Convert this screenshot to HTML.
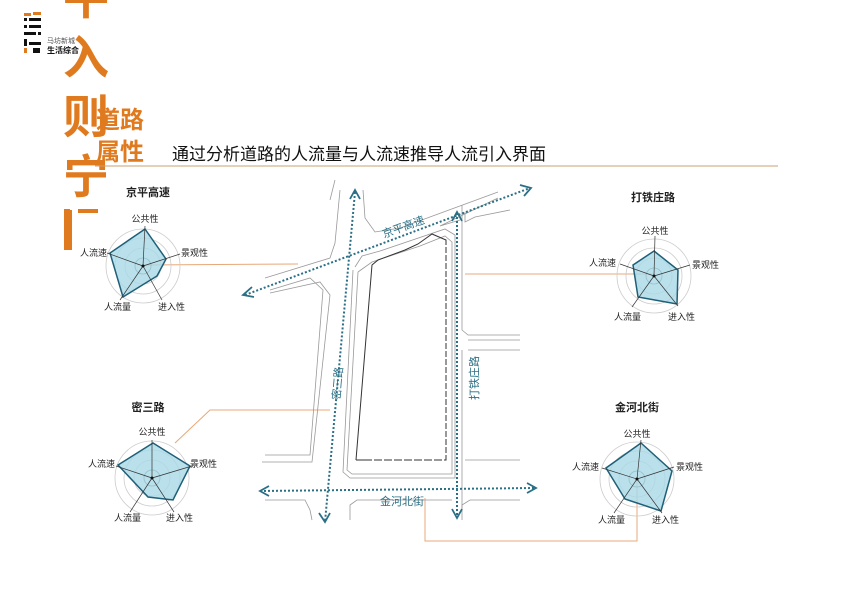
<!DOCTYPE html>
<html><head><meta charset="utf-8"><style>
body{margin:0;background:#fff}
svg{display:block}
text{font-family:"Liberation Sans","Noto Sans CJK SC",sans-serif}
</style></head><body>
<svg width="849" height="600" viewBox="0 0 849 600" xmlns="http://www.w3.org/2000/svg">
<rect width="849" height="600" fill="#fff"/>
<g fill="#111">
<rect x="24" y="13" width="7" height="3" fill="#e07a1f"/><rect x="33" y="12" width="8" height="3" fill="#e07a1f"/>
<rect x="24" y="18" width="3" height="3"/><rect x="29" y="18" width="12" height="3"/>
<rect x="24" y="25" width="3" height="3"/><rect x="29" y="25" width="12" height="3"/>
<rect x="24" y="32" width="12" height="3"/><rect x="38" y="32" width="3" height="3"/>
<rect x="24" y="39" width="3" height="7"/><rect x="29" y="42" width="12" height="3"/>
<rect x="24" y="48" width="3" height="5" fill="#e07a1f"/><rect x="33" y="48" width="7" height="5"/>
</g>
<text x="47" y="43" font-size="7" fill="#555">马坊新城</text>
<text x="47" y="53" font-size="8" font-weight="bold" fill="#111">生活综合</text>
<g fill="#e07a1f" font-weight="bold">
<text x="63" y="14" font-size="46">平</text>
<text x="63" y="74" font-size="46">入</text>
<text x="63" y="133" font-size="46">则</text>
<text x="63" y="193" font-size="46">宁</text>
<rect x="64" y="210" width="8" height="40"/><rect x="64" y="209" width="6" height="4"/><rect x="78" y="209" width="20" height="4"/>
<text x="96" y="128" font-size="24">道路</text>
<text x="96" y="160" font-size="24">属性</text>
</g>
<text x="172" y="160" font-size="17" fill="#111">通过分析道路的人流量与人流速推导人流引入界面</text>
<line x1="95" y1="166" x2="778" y2="166" stroke="#c8a070" stroke-width="1"/>
<g stroke="#e8a878" fill="none" stroke-width="1">
<line x1="144" y1="265" x2="298" y2="264"/>
<line x1="465" y1="274" x2="654" y2="274"/>
<polyline points="175,443 210,410 330,410"/>
<polyline points="637,479 637,541 425,541 425,498"/>
</g>
<g stroke="#999" fill="none" stroke-width="0.8">
<polyline points="265,278 330,258 335,243 340,190"/>
<polyline points="363,190 365,218 375,232 400,228 498,192"/>
<polyline points="270,290 310,278 323,290 310,455 265,455"/>
<polyline points="270,293 320,282 330,295 312,462 262,462"/>
<polyline points="355,267 362,256 380,251 445,229 455,235 455,478 350,478 343,472 353,270"/>
<polyline points="358,272 372,262 420,246 445,236 452,242 452,474 352,474 347,470 358,272"/>
<polyline points="465,212 465,222 475,217 510,210"/>
<polyline points="462,205 462,330 468,335 520,335"/>
<polyline points="462,350 462,508"/>
<polyline points="468,350 520,350"/>
<polyline points="468,340 520,340"/>
<line x1="465" y1="460" x2="520" y2="460"/>
<polyline points="460,220 440,226 498,198"/>
<polyline points="265,500 305,500 310,510 312,520"/>
<polyline points="350,520 350,505 357,500 452,500"/>
<polyline points="462,520 462,505 470,500 520,500"/>
<polyline points="335,180 330,200"/>
</g>
<polyline points="356,460 372,265 378,260 405,250 418,244 432,234 446,240 446,460 356,460" fill="none" stroke="#333" stroke-width="1"/>
<line x1="446" y1="245" x2="446" y2="460" stroke="#fff" stroke-width="1" stroke-dasharray="2,6"/>
<line x1="372" y1="460" x2="446" y2="460" stroke="#fff" stroke-width="1" stroke-dasharray="2,8"/>
<g stroke="#2a6f86" stroke-width="2" stroke-dasharray="2,2" fill="none">
<line x1="245" y1="295" x2="530" y2="188"/>
<line x1="355" y1="192" x2="325" y2="522"/>
<line x1="457" y1="213" x2="457" y2="516"/>
<line x1="260" y1="491" x2="535" y2="488"/>
</g>
<g stroke="#2a6f86" stroke-width="1.8" fill="none">
<polyline points="252,287 243,295 254,297"/><polyline points="520,185 531,188 524,196"/>
<polyline points="350,199 355,190 360,199"/><polyline points="319,513 325,522 330,513"/>
<polyline points="452,221 457,212 462,221"/><polyline points="452,509 457,518 462,509"/>
<polyline points="269,486 260,491 269,496"/><polyline points="527,483 536,488 527,493"/>
</g>
<g fill="#2a6f86" font-size="11">
<text x="384" y="238" transform="rotate(-20 384 238)">京平高速</text>
<text x="340" y="400" transform="rotate(-85 340 400)">密三路</text>
<text x="478" y="400" transform="rotate(-90 478 400)">打铁庄路</text>
<text x="380" y="505">金河北街</text>
</g>
<defs>
<g id="rings" fill="none" stroke="#ccc" stroke-width="0.8">
<circle r="8" stroke="#555"/><circle r="18"/><circle r="28"/><circle r="37"/>
</g>
</defs>
<g font-size="9" fill="#222">
<text x="148" y="196" font-size="11" font-weight="bold" text-anchor="middle">京平高速</text>
<use href="#rings" x="143" y="266"/>
<polygon points="145,229 166,259 157,276 123,297 110,253" fill="#a8d8e6" fill-opacity="0.8" stroke="#1f5f78" stroke-width="1.5"/>
<g stroke="#333" stroke-width="0.7"><line x1="143" y1="266" x2="145" y2="226"/><line x1="143" y1="266" x2="180" y2="254"/><line x1="143" y1="266" x2="162" y2="300"/><line x1="143" y1="266" x2="120" y2="300"/><line x1="143" y1="266" x2="107" y2="253"/></g>
<circle cx="143" cy="266" r="1.5" fill="#111"/>
<text x="145" y="222" text-anchor="middle">公共性</text><text x="181" y="256">景观性</text><text x="158" y="310">进入性</text><text x="104" y="310">人流量</text><text x="80" y="256">人流速</text>
<text x="653" y="201" font-size="11" font-weight="bold" text-anchor="middle">打铁庄路</text>
<use href="#rings" x="654" y="276"/>
<polygon points="654,251 678,270 677,304 638,297 633,265" fill="#a8d8e6" fill-opacity="0.8" stroke="#1f5f78" stroke-width="1.5"/>
<g stroke="#333" stroke-width="0.7"><line x1="654" y1="276" x2="655" y2="236"/><line x1="654" y1="276" x2="690" y2="265"/><line x1="654" y1="276" x2="678" y2="306"/><line x1="654" y1="276" x2="632" y2="307"/><line x1="654" y1="276" x2="620" y2="264"/></g>
<circle cx="654" cy="276" r="1.5" fill="#111"/>
<text x="655" y="234" text-anchor="middle">公共性</text><text x="692" y="268">景观性</text><text x="668" y="320">进入性</text><text x="614" y="320">人流量</text><text x="589" y="266">人流速</text>
<text x="148" y="411" font-size="11" font-weight="bold" text-anchor="middle">密三路</text>
<use href="#rings" x="152" y="478"/>
<polygon points="153,443 190,466 173,500 148,497 118,465" fill="#a8d8e6" fill-opacity="0.8" stroke="#1f5f78" stroke-width="1.5"/>
<g stroke="#333" stroke-width="0.7"><line x1="152" y1="478" x2="152" y2="440"/><line x1="152" y1="478" x2="192" y2="466"/><line x1="152" y1="478" x2="174" y2="512"/><line x1="152" y1="478" x2="130" y2="512"/><line x1="152" y1="478" x2="116" y2="466"/></g>
<circle cx="152" cy="478" r="1.5" fill="#111"/>
<text x="152" y="435" text-anchor="middle">公共性</text><text x="190" y="467">景观性</text><text x="166" y="521">进入性</text><text x="114" y="521">人流量</text><text x="88" y="467">人流速</text>
<text x="637" y="411" font-size="11" font-weight="bold" text-anchor="middle">金河北街</text>
<use href="#rings" x="637" y="479"/>
<polygon points="641,443 672,471 661,511 625,499 606,468" fill="#a8d8e6" fill-opacity="0.8" stroke="#1f5f78" stroke-width="1.5"/>
<g stroke="#333" stroke-width="0.7"><line x1="637" y1="479" x2="641" y2="440"/><line x1="637" y1="479" x2="674" y2="467"/><line x1="637" y1="479" x2="662" y2="513"/><line x1="637" y1="479" x2="614" y2="513"/><line x1="637" y1="479" x2="602" y2="468"/></g>
<circle cx="637" cy="479" r="1.5" fill="#111"/>
<text x="637" y="437" text-anchor="middle">公共性</text><text x="676" y="470">景观性</text><text x="652" y="523">进入性</text><text x="598" y="523">人流量</text><text x="572" y="470">人流速</text>
</g>
</svg>
</body></html>
